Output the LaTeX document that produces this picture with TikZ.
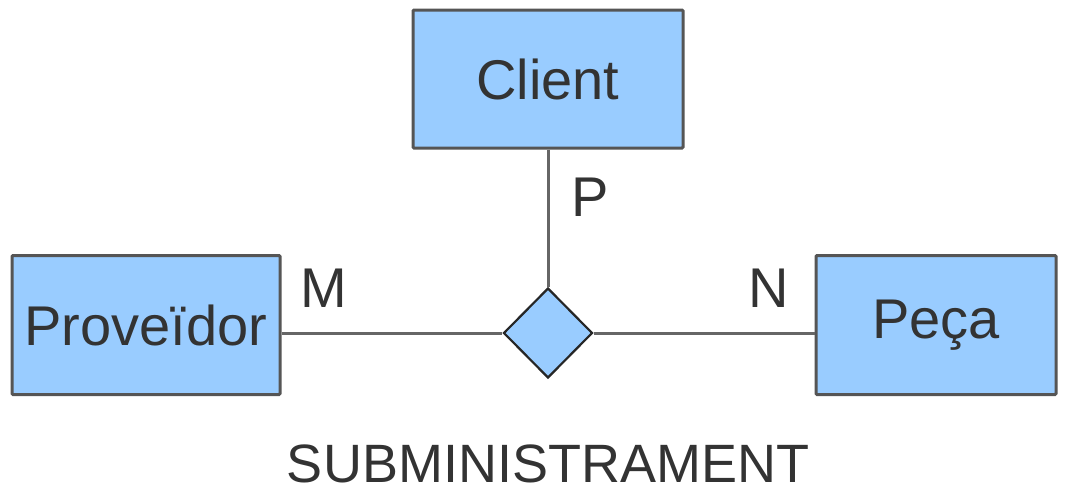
\documentclass[tikz,border=0pt]{standalone}
\usepackage{fontspec}
\setmainfont{Liberation Sans}
\usetikzlibrary{shapes.geometric}
\definecolor{boxfill}{HTML}{99CCFF}
\definecolor{boxline}{HTML}{555555}
\definecolor{connline}{HTML}{666666}
\definecolor{txt}{HTML}{333333}
\begin{document}
\begin{tikzpicture}[x=1pt,y=-1pt,
  entity/.style={draw=boxline,line width=3pt,fill=boxfill,rounded corners=1pt,inner sep=0pt,
    font=\fontsize{56}{60}\selectfont,text=txt},
  rel/.style={draw=black!85,line width=2.2pt,fill=boxfill,diamond,inner sep=0pt,minimum width=89pt,minimum height=90pt},
  conn/.style={draw=connline,line width=3pt},
  lbl/.style={font=\fontsize{56}{60}\selectfont,text=txt,inner sep=0pt}]
\useasboundingbox (0,0) rectangle (1066,491);
\node[entity,minimum width=270pt,minimum height=138pt] (client) at (548,79) {Client};
\node[entity,minimum width=268pt,minimum height=139pt] (prov) at (146,325) {Proveïdor};
\node[entity,minimum width=240pt,minimum height=139pt] (peca) at (936,325) {Peça};
\node[rel] (d) at (548,333) {};
\draw[conn] (client.south) -- (d.north);
\draw[conn] (prov.east |- d.west) -- (d.west);
\draw[conn] (d.east) -- (peca.west |- d.east);
\node[lbl] (p) at (590,197) {P};
\node[lbl] (m) at (324,288) {M};
\node[lbl] (n) at (769,288) {N};
\node[lbl,font=\fontsize{54}{58}\selectfont] (title) at (548,464) {SUBMINISTRAMENT};
\end{tikzpicture}
\end{document}
